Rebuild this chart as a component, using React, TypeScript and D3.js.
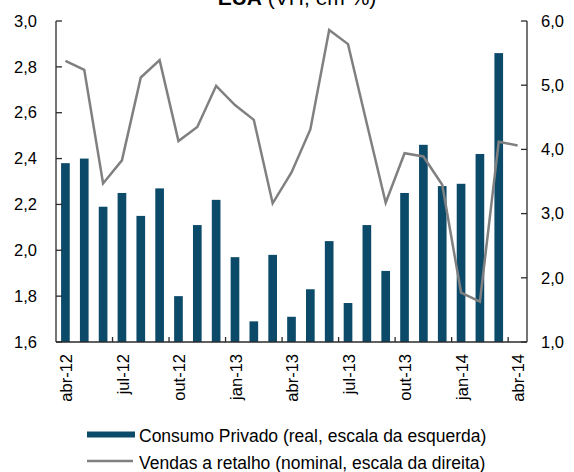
import { useEffect, useRef } from 'react';
import * as d3 from 'd3';

const WIDTH = 574;
const HEIGHT = 472;
const PLOT = { left: 56, right: 527, top: 21, bottom: 342 };

const months = [
  'abr-12', 'mai-12', 'jun-12', 'jul-12', 'ago-12', 'set-12', 'out-12', 'nov-12', 'dez-12',
  'jan-13', 'fev-13', 'mar-13', 'abr-13', 'mai-13', 'jun-13', 'jul-13', 'ago-13', 'set-13',
  'out-13', 'nov-13', 'dez-13', 'jan-14', 'fev-14', 'mar-14', 'abr-14',
];

// consumo privado, real (left scale) - no value yet for abr-14
const consumo: (number | null)[] = [
  2.38, 2.40, 2.19, 2.25, 2.15, 2.27, 1.80, 2.11, 2.22, 1.97, 1.69, 1.98, 1.71,
  1.83, 2.04, 1.77, 2.11, 1.91, 2.25, 2.46, 2.28, 2.29, 2.42, 2.86, null,
];

// vendas a retalho, nominal (right scale)
const vendas = [
  5.38, 5.24, 3.47, 3.83, 5.12, 5.39, 4.13, 4.35, 4.99, 4.69, 4.46, 3.16, 3.64,
  4.31, 5.86, 5.64, 4.40, 3.17, 3.94, 3.89, 3.45, 1.77, 1.63, 4.12, 4.06,
];

const leftTicks = [1.6, 1.8, 2.0, 2.2, 2.4, 2.6, 2.8, 3.0];
const rightTicks = [1, 2, 3, 4, 5, 6];
const labelMonths = ['abr-12', 'jul-12', 'out-12', 'jan-13', 'abr-13', 'jul-13', 'out-13', 'jan-14', 'abr-14'];

const BAR_COLOR = '#0c4a6a';
const LINE_COLOR = '#808080';
const AXIS_COLOR = '#2b2b2b';
const FONT = 'Arial, "Liberation Sans", sans-serif';
const PAD_INNER = 0.54;

const fmt = (v: number) => v.toFixed(1).replace('.', ',');

export default function App() {
  const svgRef = useRef<SVGSVGElement>(null);

  useEffect(() => {
    const svg = d3.select(svgRef.current);
    svg.selectAll('*').remove();

    const x = d3
      .scaleBand<string>()
      .domain(months)
      .range([PLOT.left, PLOT.right])
      .paddingInner(PAD_INNER)
      .paddingOuter(PAD_INNER / 2);
    const step = x.step();
    const cx = (m: string) => (x(m) ?? 0) + x.bandwidth() / 2;

    const yL = d3.scaleLinear().domain([1.6, 3.0]).range([PLOT.bottom, PLOT.top]);
    const yR = d3.scaleLinear().domain([1, 6]).range([PLOT.bottom, PLOT.top]);

    // title (cropped at top in the source)
    const title = svg
      .append('text')
      .attr('x', 297)
      .attr('y', 5)
      .attr('text-anchor', 'middle')
      .attr('font-family', FONT)
      .attr('font-size', 21)
      .attr('fill', '#000');
    title.append('tspan').attr('font-weight', 'bold').text('EUA');
    title.append('tspan').text(' (VH, em %)');

    // bars
    svg
      .append('g')
      .selectAll('rect')
      .data(months.map((m, i) => ({ m, v: consumo[i] })).filter((d) => d.v !== null))
      .enter()
      .append('rect')
      .attr('x', (d) => x(d.m) ?? 0)
      .attr('width', x.bandwidth())
      .attr('y', (d) => yL(d.v as number))
      .attr('height', (d) => PLOT.bottom - yL(d.v as number))
      .attr('fill', BAR_COLOR);

    // line
    const line = d3
      .line<number>()
      .x((_, i) => cx(months[i]))
      .y((d) => yR(d));
    svg
      .append('path')
      .attr('d', line(vendas))
      .attr('fill', 'none')
      .attr('stroke', LINE_COLOR)
      .attr('stroke-width', 2.5)
      .attr('stroke-linejoin', 'miter');

    // axes lines
    const axes = svg.append('g').attr('stroke', AXIS_COLOR).attr('stroke-width', 1.3);
    axes.append('line').attr('x1', PLOT.left).attr('x2', PLOT.left).attr('y1', PLOT.top).attr('y2', PLOT.bottom);
    axes.append('line').attr('x1', PLOT.right).attr('x2', PLOT.right).attr('y1', PLOT.top).attr('y2', PLOT.bottom);
    axes.append('line').attr('x1', PLOT.left).attr('x2', PLOT.right).attr('y1', PLOT.bottom).attr('y2', PLOT.bottom);

    leftTicks.forEach((t) => {
      axes.append('line').attr('x1', PLOT.left).attr('x2', PLOT.left + 6).attr('y1', yL(t)).attr('y2', yL(t));
    });
    rightTicks.forEach((t) => {
      axes.append('line').attr('x1', PLOT.right - 6).attr('x2', PLOT.right).attr('y1', yR(t)).attr('y2', yR(t));
    });
    // bottom ticks every 3 months on the band boundaries
    months.forEach((m, i) => {
      if (i % 3 !== 0 || i === 0) return;
      const bx = (x(m) ?? 0) - (step * PAD_INNER) / 2;
      axes.append('line').attr('x1', bx).attr('x2', bx).attr('y1', PLOT.bottom - 5).attr('y2', PLOT.bottom);
    });

    const labels = svg.append('g').attr('font-family', FONT).attr('font-size', 16.5).attr('fill', '#000');
    leftTicks.forEach((t) => {
      labels.append('text').attr('x', 37).attr('y', yL(t)).attr('dy', '0.35em').attr('text-anchor', 'end').text(fmt(t));
    });
    rightTicks.forEach((t) => {
      labels.append('text').attr('x', 541).attr('y', yR(t)).attr('dy', '0.35em').attr('text-anchor', 'start').text(fmt(t));
    });
    labelMonths.forEach((m) => {
      labels
        .append('text')
        .attr('transform', `translate(${cx(m) + 1},354) rotate(-90)`)
        .attr('dy', '0.35em')
        .attr('text-anchor', 'end')
        .text(m);
    });

    // legend
    const legend = svg.append('g').attr('font-family', FONT).attr('font-size', 17.5).attr('fill', '#000');
    legend.append('rect').attr('x', 87).attr('y', 431.5).attr('width', 48).attr('height', 6).attr('fill', BAR_COLOR);
    legend.append('text').attr('x', 139).attr('y', 442).text('Consumo Privado (real, escala da esquerda)');
    legend
      .append('line')
      .attr('x1', 87)
      .attr('x2', 133)
      .attr('y1', 461)
      .attr('y2', 461)
      .attr('stroke', LINE_COLOR)
      .attr('stroke-width', 2.5);
    legend.append('text').attr('x', 139).attr('y', 469).text('Vendas a retalho (nominal, escala da direita)');
  }, []);

  return (
    <svg
      ref={svgRef}
      width={WIDTH}
      height={HEIGHT}
      style={{ position: 'absolute', left: 0, top: 0, background: '#fff' }}
    />
  );
}
